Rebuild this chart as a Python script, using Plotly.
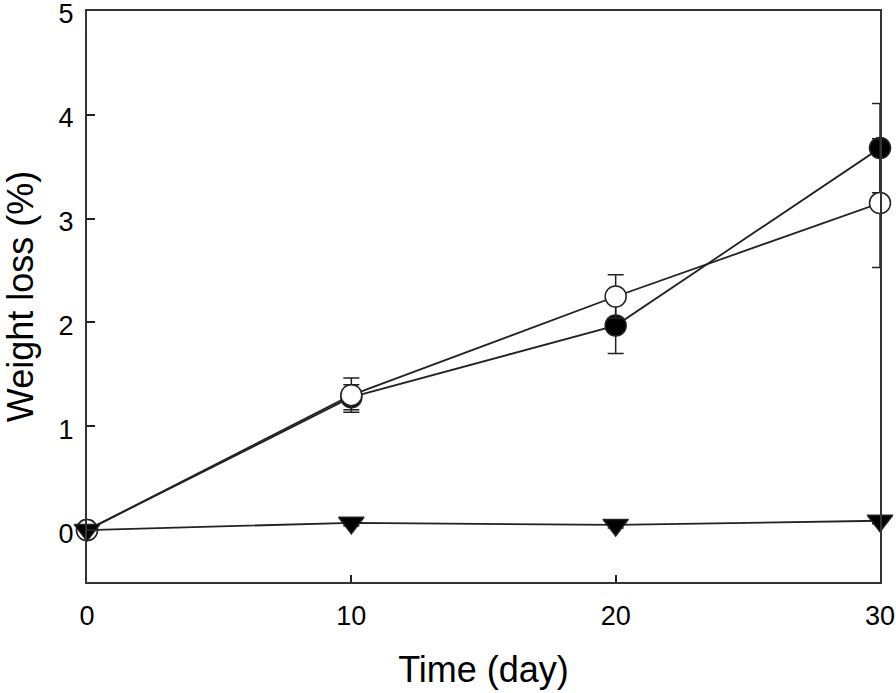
import plotly.graph_objects as go

days = [0, 10, 20, 30]

filled = [0.0, 1.28, 1.97, 3.68]
filled_err = [0.0, 0.12, 0.27, 0.43]

hollow = [0.0, 1.30, 2.25, 3.15]
hollow_err = [0.0, 0.165, 0.21, 0.62]

tri = [0.0, 0.07, 0.05, 0.09]
tri_err = [0.0, 0.03, 0.03, 0.03]

y_ticks = [0, 1, 2, 3, 4, 5]
x_ticks = [0, 10, 20, 30]

line_col = '#222222'
fig = go.Figure()


def add_series(y, err, symbol, fill, size):
    fig.add_trace(go.Scatter(
        x=days, y=y, mode='lines+markers',
        line=dict(color=line_col, width=1.8),
        marker=dict(symbol=symbol, size=size, color=fill,
                    line=dict(color=line_col, width=1.5)),
        error_y=dict(type='data', array=err, visible=True,
                     color=line_col, thickness=1.5, width=8),
        cliponaxis=False, showlegend=False,
    ))


add_series(filled, filled_err, 'circle', 'black', 21)
add_series(hollow, hollow_err, 'circle', 'white', 21)
add_series(tri, tri_err, 'triangle-down', 'black', 22)

axis_font = dict(family='Liberation Sans, Arial, sans-serif', size=27, color='black')
title_font = dict(family='Liberation Sans, Arial, sans-serif', size=36, color='black')

fig.update_layout(
    width=896, height=693,
    margin=dict(l=87, r=16, t=11, b=111),
    plot_bgcolor='white', paper_bgcolor='white',
    xaxis=dict(
        range=[0, 30], tickvals=x_ticks, ticks='inside', ticklen=7,
        tickwidth=1.5, tickcolor=line_col, showgrid=False, zeroline=False,
        showline=True, linecolor='#333333', linewidth=2, mirror=True,
        automargin=False, ticklabelstandoff=9, ticklabeloverflow='allow',
        tickfont=axis_font, title=dict(text='Time (day)', font=title_font, standoff=26),
    ),
    yaxis=dict(
        range=[-0.5, 5.0001], tickvals=y_ticks, ticks='inside', ticklen=8,
        tickwidth=1.5, tickcolor=line_col, showgrid=False, zeroline=False,
        showline=True, linecolor='#333333', linewidth=2, mirror=True,
        automargin=False, ticklabelstandoff=6, ticklabeloverflow='allow',
        ticklabelshift=3,
        tickfont=axis_font, title=dict(text='Weight loss (%)', font=title_font, standoff=28),
    ),
)

# page body has a default 8px margin; drop it so the figure sits at (0, 0)
fig.write_html("out.html", config={'displayModeBar': False},
               post_script="document.body.style.margin='0';")
